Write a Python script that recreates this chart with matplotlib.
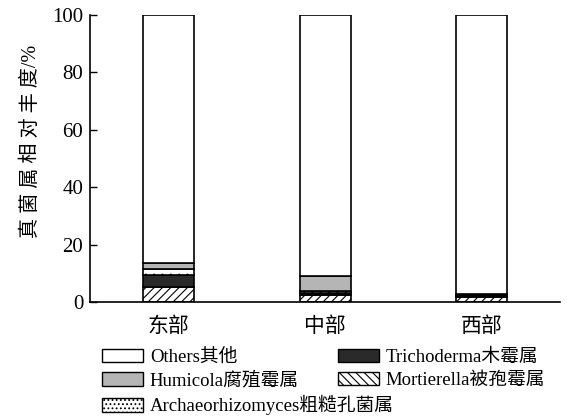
import matplotlib.pyplot as plt
from matplotlib.patches import Patch

plt.rcParams['font.family'] = ['Liberation Serif', 'Noto Sans CJK SC']
plt.rcParams['hatch.linewidth'] = 0.8

regions = ['东部', '中部', '西部']

# relative abundance (%) of each genus, stacked bottom to top
mortierella = [5.3, 2.3, 1.6]
trichoderma = [4.1, 0.7, 0.6]
archaeo = [2.1, 0.8, 0.3]
humicola = [2.2, 5.3, 0.4]
others = [86.3, 90.9, 97.1]

fig = plt.figure(figsize=(5.67, 4.16), dpi=100)
ax = fig.add_axes([0.159, 0.274, 0.829, 0.690])

x = range(len(regions))
w = 0.325
bottom = [0, 0, 0]

layers = [
    (mortierella, 'white', '////'),
    (trichoderma, '#2a2a2a', None),
    (archaeo, 'white', '..'),
    (humicola, '#b5b5b5', None),
    (others, 'white', None),
]
for vals, col, hatch in layers:
    ax.bar(x, vals, w, bottom=bottom, color=col, edgecolor='black',
           linewidth=1.2, hatch=hatch)
    bottom = [b + v for b, v in zip(bottom, vals)]

ax.set_xlim(-0.5, 2.5)
ax.set_ylim(0, 100)
ax.set_yticks([0, 20, 40, 60, 80, 100])
ax.set_xticks(list(x))
ax.set_xticklabels(regions, fontsize=15)
ax.tick_params(axis='y', direction='in', length=5, labelsize=15, width=1, pad=5)
ax.tick_params(axis='x', length=0, pad=11)
ax.spines['top'].set_visible(False)
ax.spines['right'].set_visible(False)
ax.spines['left'].set_linewidth(1.2)
ax.spines['bottom'].set_linewidth(1.2)
ax.set_ylabel('真 菌 属 相 对 丰 度/%', fontsize=14.5)
ax.yaxis.set_label_coords(-0.104, 0.56)

col1 = [
    Patch(facecolor='white', edgecolor='black', label='Others其他'),
    Patch(facecolor='#b5b5b5', edgecolor='black', label='Humicola腐殖霉属'),
    Patch(facecolor='white', edgecolor='black', hatch='....', label='Archaeorhizomyces粗糙孔菌属'),
]
col2 = [
    Patch(facecolor='#2a2a2a', edgecolor='black', label='Trichoderma木霉属'),
    Patch(facecolor='white', edgecolor='black', hatch='\\\\\\\\', label='Mortierella被孢霉属'),
]
opts = dict(loc='upper left', frameon=False, fontsize=13.5, handlelength=2.2,
            handleheight=0.75, handletextpad=0.35, labelspacing=0.3,
            borderaxespad=0, borderpad=0)
fig.legend(handles=col1, bbox_to_anchor=(0.180, 0.162), **opts)
fig.legend(handles=col2, bbox_to_anchor=(0.596, 0.162), **opts)

fig.savefig('out.png', dpi=100)
